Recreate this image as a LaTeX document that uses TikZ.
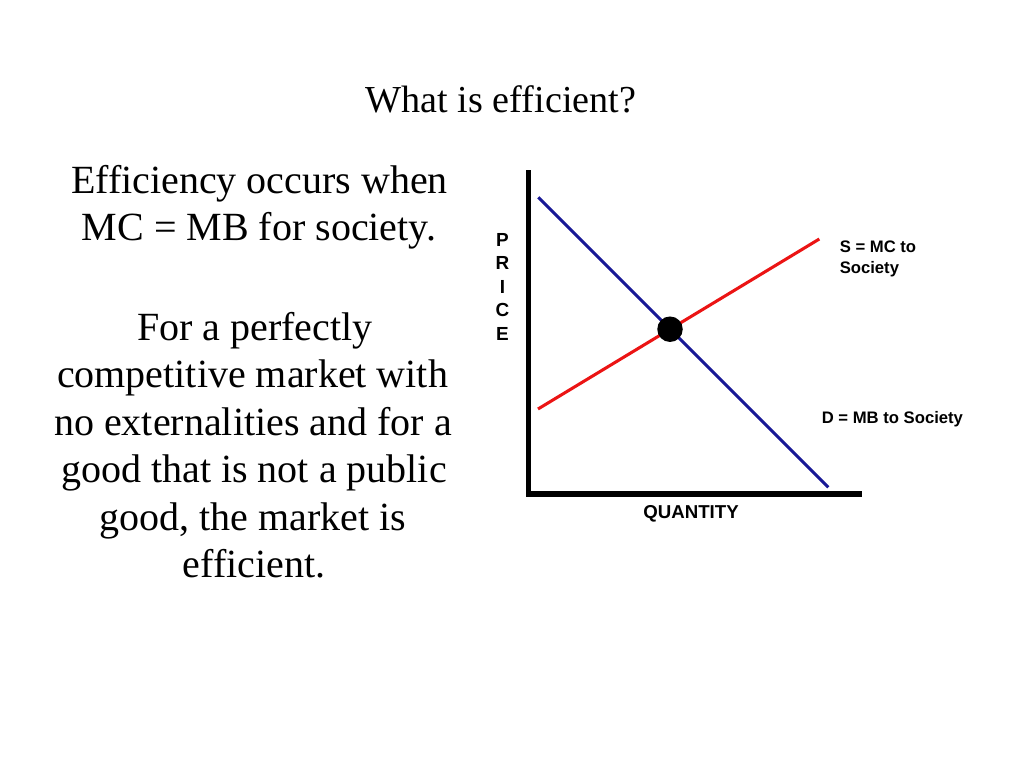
\documentclass[tikz,border=0pt]{standalone}
\usepackage{fontspec}
\setmainfont{Liberation Serif}
\newfontfamily\arialfont{Liberation Sans}
\definecolor{dnavy}{RGB}{24,24,150}
\definecolor{sred}{RGB}{235,20,20}
\begin{document}
\begin{tikzpicture}[x=0.75pt,y=-0.75pt,
  titletxt/.style={inner sep=0pt,anchor=base,font=\fontsize{28.6}{34}\selectfont},
  bodytxt/.style={inner sep=0pt,anchor=base,font=\fontsize{30}{35.6}\selectfont},
  lbl/.style={inner sep=0pt,font=\arialfont\bfseries\fontsize{12.5}{15.9}\selectfont},
  axis/.style={line width=4.1pt,black},
  curve/.style={line width=2.3pt}]
\useasboundingbox (0,0) rectangle (1024,768);
% title
\node[titletxt] (title) at (501,112) {What is efficient?};
% left text
\node[bodytxt] (l1) at (259.5,193) {Efficiency occurs when};
\node[bodytxt] (l2) at (259,240) {MC = MB for society.};
\node[bodytxt] (l3) at (255,340) {For a perfectly};
\node[bodytxt] (l4) at (252.5,387.5) {competitive market with};
\node[bodytxt] (l5) at (253,435) {no externalities and for a};
\node[bodytxt] (l6) at (254,482.5) {good that is not a public};
\node[bodytxt] (l7) at (253,530) {good, the market is};
\node[bodytxt] (l8) at (254,577.5) {efficient.};
% axes
\coordinate (ytop) at (528.5,170);
\coordinate (origin) at (528.5,494);
\coordinate (xend) at (862,494);
\draw[axis] (ytop) -- (origin) -- (xend);
% curves
\coordinate (d1) at (538.3,197.3);
\coordinate (d2) at (828.3,487.3);
\coordinate (s1) at (538,409);
\coordinate (s2) at (819.3,239);
\draw[curve,dnavy] (d1) -- (d2);
\draw[curve,sred] (s1) -- (s2);
\node[circle,fill=black,inner sep=0pt,minimum size=25.5*0.75pt] (eq) at (670,329.2) {};
% labels
\node[lbl,align=center,anchor=base,font=\arialfont\bfseries\fontsize{14.2}{17.7}\selectfont] (price) at (502.5,340.5) {P\\R\\I\\C\\E};
\node[lbl,anchor=base,font=\arialfont\bfseries\fontsize{14}{16}\selectfont] (qty) at (691,518) {QUANTITY};
\node[lbl,anchor=base west,align=left] (slab) at (839.5,273.3) {S = MC to\\Society};
\node[lbl,anchor=base west] (dlab) at (821.5,423) {D = MB to Society};
\end{tikzpicture}
\end{document}
